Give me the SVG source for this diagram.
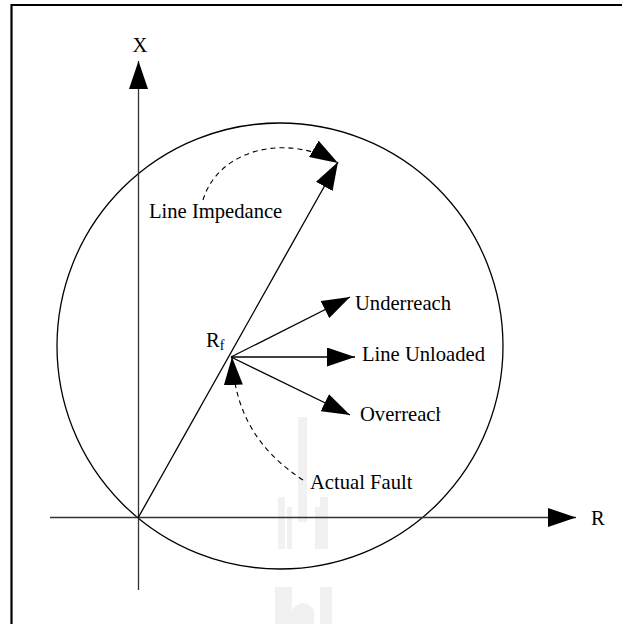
<svg xmlns="http://www.w3.org/2000/svg" width="622" height="624" viewBox="0 0 622 624">
<defs>
<style>
.ln{stroke:#000;stroke-width:1.3;fill:none}
.ax{stroke:#333;stroke-width:1.3;fill:none}
.dash{stroke:#000;stroke-width:1.1;fill:none;stroke-dasharray:5 4}
.lbl{font-family:"Liberation Serif","Times New Roman",serif;font-size:20.6px;fill:#000}
.wm{fill:#f1f1f1}
</style>
<marker id="ah" markerUnits="userSpaceOnUse" markerWidth="28" markerHeight="19" refX="28" refY="9.5" orient="auto">
<path d="M0,0 L28,9.5 L0,19 Z" fill="#000"/>
</marker>
<clipPath id="clipO"><rect x="350" y="395" width="90.5" height="40"/></clipPath>
</defs>
<rect width="622" height="624" fill="#fff"/>
<g id="watermark">
<rect class="wm" x="298" y="417" width="9" height="105"/>
<rect class="wm" x="278" y="497" width="7" height="52"/>
<rect class="wm" x="287" y="507" width="5" height="42"/>
<rect class="wm" x="315" y="507" width="5" height="42"/>
<rect class="wm" x="320" y="497" width="8" height="52"/>
<rect class="wm" x="275" y="587" width="17" height="37"/>
<rect class="wm" x="320" y="587" width="12" height="37"/>
<path class="wm" d="M292,624 L292,610 Q303,596 314,610 L314,624 Z"/>
</g>
<g id="frame">
<path d="M11.5,624 L11.5,5 L622,5" stroke="#000" stroke-width="2.2" fill="none"/>
</g>
<g id="circle">
<circle cx="280" cy="346" r="223" class="ln"/>
</g>
<g id="connectors">
<line class="ax" x1="138.5" y1="590" x2="138.5" y2="61" marker-end="url(#ah)"/>
<line class="ax" x1="50" y1="517.5" x2="576" y2="517.5" marker-end="url(#ah)"/>
<line class="ln" x1="138" y1="518" x2="338" y2="162" marker-end="url(#ah)"/>
<line class="ln" x1="231" y1="357" x2="350" y2="297" marker-end="url(#ah)"/>
<line class="ln" x1="231" y1="357" x2="355" y2="357" marker-end="url(#ah)"/>
<line class="ln" x1="231" y1="357" x2="350" y2="415" marker-end="url(#ah)"/>
<path class="dash" d="M203,200 C218,150 285,132 338,163" marker-end="url(#ah)"/>
<path class="dash" d="M303,480 C265,455 235,420 232,357" marker-end="url(#ah)"/>
</g>
<g id="labels">
<g id="label-X"><text class="lbl" x="140" y="52" text-anchor="middle">X</text></g>
<g id="label-R"><text class="lbl" x="591" y="525">R</text></g>
<g id="label-Rf"><text class="lbl" x="206" y="347">R<tspan font-size="14" dy="3">f</tspan></text></g>
<g id="label-impedance"><text class="lbl" x="149" y="218">Line Impedance</text></g>
<g id="label-underreach"><text class="lbl" x="355" y="310">Underreach</text></g>
<g id="label-unloaded"><text class="lbl" x="362" y="361">Line Unloaded</text></g>
<g id="label-overreach"><text class="lbl" x="360" y="421" clip-path="url(#clipO)">Overreach</text></g>
<g id="label-fault"><text class="lbl" x="310" y="489">Actual Fault</text></g>
</g>
</svg>
